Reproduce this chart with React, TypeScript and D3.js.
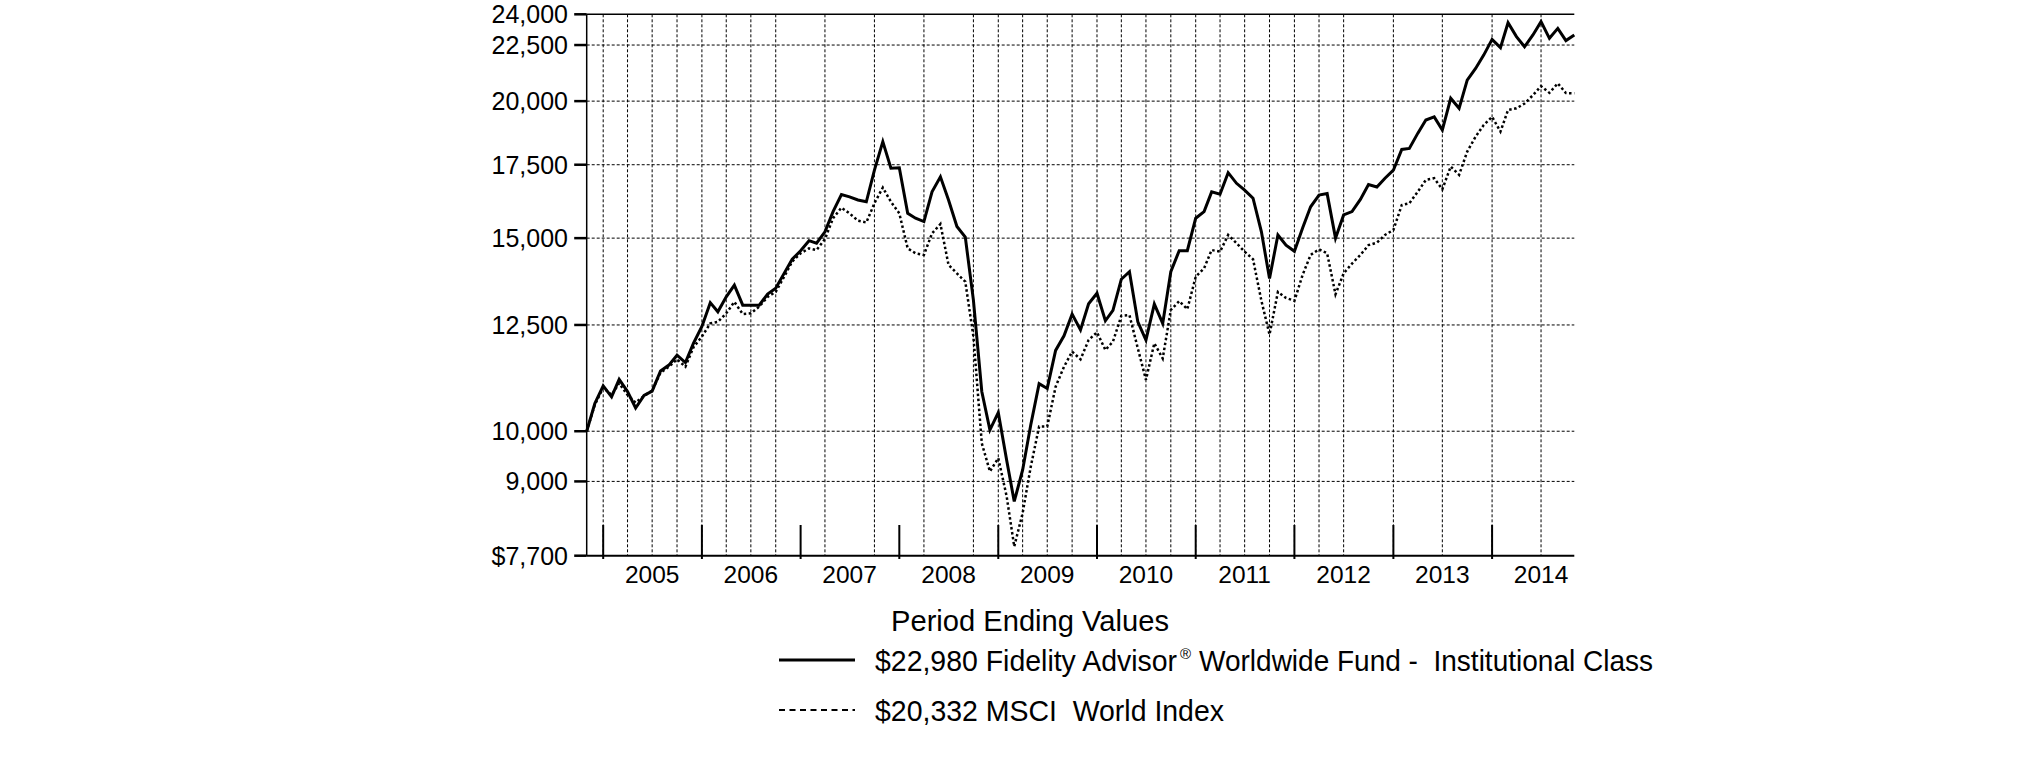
import React from 'react';
import * as d3 from 'd3';

// month-end values, Oct 2004 .. Oct 2014
const fundValues = [
  10000, 10600, 11000, 10750, 11150, 10870, 10500, 10780, 10880, 11350, 11490, 11730,
  11550, 12030, 12460, 13100, 12850, 13260, 13590, 13030, 13030, 13030, 13340, 13500,
  13930, 14350, 14610, 14920, 14840, 15200, 15860, 16440, 16360, 16250, 16190, 17300,
  18370, 17370, 17390, 15800, 15640, 15530, 16530, 17060, 16250, 15370, 15030, 13170,
  10870, 10030, 10400, 9410, 8630, 9220, 10130, 11050, 10940, 11850, 12220, 12790,
  12370, 13070, 13360, 12610, 12890, 13760, 13980, 12580, 12110, 13060, 12540, 13980,
  14610, 14610, 15640, 15860, 16530, 16450, 17210, 16830, 16590, 16310, 15200, 13780,
  15100, 14780, 14590, 15340, 16020, 16420, 16470, 15000, 15750, 15860, 16270, 16790,
  16700, 17010, 17300, 18070, 18110, 18690, 19220, 19350, 18820, 20120, 19700, 20900,
  21420, 22030, 22770, 22380, 23580, 22900, 22420, 22980, 23630, 22820, 23300, 22710,
  22980,
];

const indexValues = [
  10000, 10570, 10960, 10790, 11060, 10790, 10620, 10770, 10890, 11310, 11450, 11630,
  11450, 11930, 12200, 12540, 12580, 12810, 13120, 12790, 12810, 12990, 13260, 13400,
  13830, 14280, 14530, 14680, 14630, 14970, 15640, 15990, 15800, 15560, 15500, 16140,
  16680, 16190, 15800, 14680, 14530, 14480, 15150, 15450, 14180, 13930, 13690, 12200,
  9750, 9190, 9450, 8720, 7850, 8420, 9280, 10100, 10100, 10980, 11450, 11820,
  11630, 12110, 12310, 11860, 12070, 12740, 12760, 11900, 11140, 12030, 11650, 12900,
  13140, 12920, 13830, 14080, 14630, 14580, 15100, 14840, 14580, 14350, 13150, 12250,
  13400, 13230, 13150, 13900, 14480, 14650, 14530, 13330, 13930, 14220, 14480, 14780,
  14860, 15100, 15260, 16080, 16140, 16530, 16950, 17010, 16620, 17430, 17130, 17990,
  18560, 19020, 19350, 18760, 19630, 19700, 19900, 20250, 20640, 20350, 20760, 20340,
  20332,
];

const yTicks = [7700, 9000, 10000, 12500, 15000, 17500, 20000, 22500, 24000];
const yearLabels = ['2005', '2006', '2007', '2008', '2009', '2010', '2011', '2012', '2013', '2014'];
const yearTicks = ['2004-12', '2005-12', '2006-12', '2007-12', '2008-12', '2009-12', '2010-12', '2011-12', '2012-12', '2013-12'];
const gridMonths = [
  '2004-12', '2005-03', '2005-06', '2005-09', '2005-12', '2006-03', '2006-06', '2006-09',
  '2007-03', '2007-09', '2008-03', '2008-09', '2008-12', '2009-03', '2009-06', '2009-09',
  '2009-12', '2010-03', '2010-06', '2010-09', '2010-12', '2011-03', '2011-06', '2011-09',
  '2011-12', '2012-03', '2012-06', '2012-12', '2013-06', '2013-12', '2014-06',
];

const legendTitle = 'Period Ending Values';
const fundLabel = { value: '$22,980', name: 'Fidelity Advisor', mark: '®', rest: 'Worldwide Fund -  Institutional Class' };
const indexLabel = { value: '$20,332', name: 'MSCI  World Index' };

const monthEnd = (s: string) => {
  const [y, m] = s.split('-').map(Number);
  return new Date(Date.UTC(y, m, 0));
};

const months = d3.range(fundValues.length).map(i => new Date(Date.UTC(2004, 10 + i, 0)));

const W = 2025;
const H = 761;
const left = 586.7;
const right = 1574.3;
const top = 14.3;
const bottom = 555.7;
const font = '"Liberation Sans", Arial, Helvetica, sans-serif';

const App: React.FC = () => {
  const x = d3.scaleUtc().domain([months[0], months[months.length - 1]]).range([left, right]);
  const y = d3.scaleLog().domain([7700, 24000]).range([bottom, top]);

  const line = d3.line<number>()
    .x((_, i) => x(months[i]))
    .y(d => y(d));

  const fmt = d3.format(',');

  return (
    <svg width={W} height={H} style={{ position: 'absolute', left: 0, top: 0, background: '#fff' }}
      fontFamily={font}>
      {/* horizontal grid */}
      {yTicks.filter(t => t !== 7700 && t !== 24000).map(t => (
        <line key={`h${t}`} x1={left} x2={right} y1={y(t)} y2={y(t)}
          stroke="#000" strokeWidth={1} strokeDasharray="3,2" />
      ))}
      {/* vertical grid */}
      {gridMonths.map(m => (
        <line key={`v${m}`} x1={x(monthEnd(m))} x2={x(monthEnd(m))} y1={top} y2={bottom}
          stroke="#000" strokeWidth={1} strokeDasharray="3,2" />
      ))}
      {/* frame */}
      <line x1={left} x2={right} y1={top} y2={top} stroke="#000" strokeWidth={1.5} />
      <line x1={left} x2={right} y1={bottom} y2={bottom} stroke="#000" strokeWidth={2} />
      <line x1={left} x2={left} y1={top} y2={bottom} stroke="#000" strokeWidth={1.5} />

      {/* y ticks */}
      {yTicks.map((t, i) => (
        <g key={`y${t}`}>
          <line x1={left - 12.5} x2={left} y1={y(t)} y2={y(t)} stroke="#000" strokeWidth={2.5} />
          <text x={568} y={y(t)} dy="0.36em" textAnchor="end" fontSize={25} fill="#000">
            {i === 0 ? `$${fmt(t)}` : fmt(t)}
          </text>
        </g>
      ))}

      {/* year ticks and labels */}
      {yearTicks.map(m => (
        <line key={`t${m}`} x1={x(monthEnd(m))} x2={x(monthEnd(m))} y1={525} y2={559}
          stroke="#000" strokeWidth={2} />
      ))}
      {yearLabels.map(yr => (
        <text key={`l${yr}`} x={x(monthEnd(`${yr}-06`))} y={583} textAnchor="middle" fontSize={24.5} fill="#000">
          {yr}
        </text>
      ))}

      {/* series */}
      <path d={line(indexValues) ?? ''} fill="none" stroke="#000" strokeWidth={2.5} strokeDasharray="2.5,2.5" />
      <path d={line(fundValues) ?? ''} fill="none" stroke="#000" strokeWidth={3} strokeLinejoin="miter" />

      {/* legend */}
      <text x={891} y={631} fontSize={30} fill="#000" textLength={278} lengthAdjust="spacingAndGlyphs">
        {legendTitle}
      </text>
      <line x1={779} x2={855} y1={660} y2={660} stroke="#000" strokeWidth={3} />
      <text x={875} y={671} fontSize={30} fill="#000" style={{ whiteSpace: 'pre' }}
        textLength={302} lengthAdjust="spacingAndGlyphs">
        {`${fundLabel.value} ${fundLabel.name}`}
      </text>
      <text x={1180} y={659} fontSize={15} fill="#000">{fundLabel.mark}</text>
      <text x={1199} y={671} fontSize={30} fill="#000" style={{ whiteSpace: 'pre' }}
        textLength={454} lengthAdjust="spacingAndGlyphs">
        {fundLabel.rest}
      </text>
      <line x1={779} x2={855} y1={710} y2={710} stroke="#000" strokeWidth={2} strokeDasharray="6,4.5" />
      <text x={875} y={721} fontSize={30} fill="#000" style={{ whiteSpace: 'pre' }}
        textLength={349} lengthAdjust="spacingAndGlyphs">
        {`${indexLabel.value} ${indexLabel.name}`}
      </text>
    </svg>
  );
};

export default App;
